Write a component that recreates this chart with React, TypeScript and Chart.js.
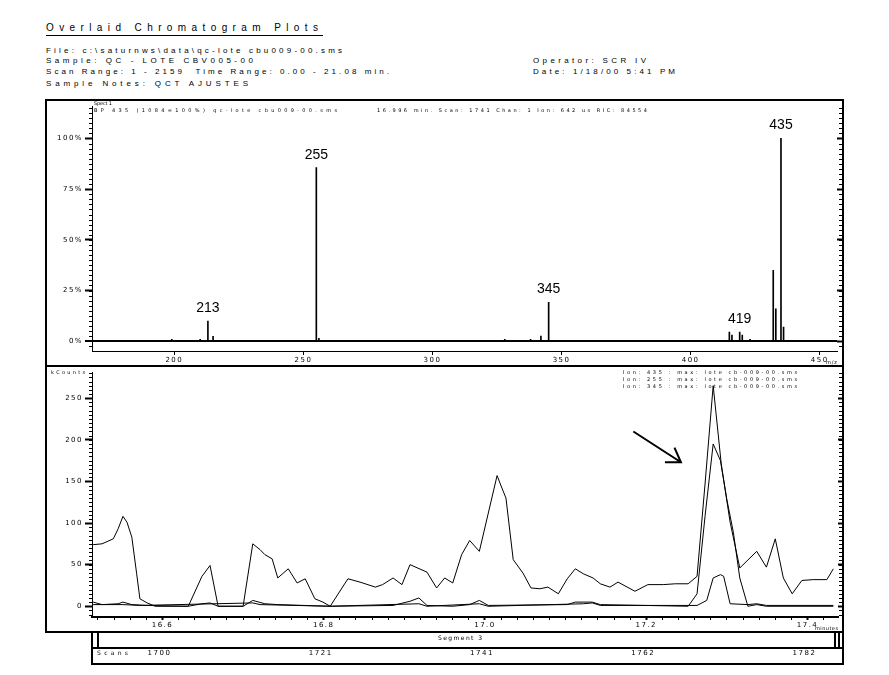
import React, { useEffect, useLayoutEffect, useRef } from "react";
import { Chart, registerables } from "chart.js";
Chart.register(...registerables);

// ---------- Mass spectrum (top panel) ----------
const spectrumMz = [199, 210, 213, 215, 255, 256, 328, 338, 342, 345, 415, 416, 419, 420, 423, 432, 433, 435, 436];
const spectrumIntensity = [1, 1, 10, 2.4, 85.6, 1.5, 1, 1, 2.5, 19.2, 4.5, 3, 4.5, 3, 1, 35, 16, 100, 7];
const labelledPeaks = [213, 255, 345, 419, 435];
const mzTicks = [200, 250, 300, 350, 400, 450];
const mzRange = [168.1, 456.7];
const percentTicks = [0, 25, 50, 75, 100];
const percentLabels = ["0%", "25%", "50%", "75%", "100%"];
const percentRange = [-4.8, 115.9];

// ---------- Chromatogram (bottom panel) ----------
const traceNames = ["Ion: 435", "Ion: 255", "Ion: 345"];
const trace1Time = [16.514, 16.525, 16.539, 16.545, 16.551, 16.556, 16.562, 16.568, 16.572, 16.581, 16.591, 16.632, 16.649, 16.659, 16.669, 16.700, 16.712, 16.721, 16.727, 16.736, 16.743, 16.756, 16.767, 16.777, 16.789, 16.799, 16.808, 16.830, 16.845, 16.864, 16.873, 16.886, 16.897, 16.907, 16.928, 16.940, 16.950, 16.960, 16.971, 16.981, 16.993, 17.015, 17.021, 17.026, 17.035, 17.047, 17.057, 17.068, 17.078, 17.091, 17.102, 17.112, 17.122, 17.134, 17.143, 17.155, 17.165, 17.186, 17.202, 17.221, 17.236, 17.252, 17.263, 17.273, 17.283, 17.293, 17.304, 17.316, 17.337, 17.349, 17.360, 17.370, 17.381, 17.393, 17.407, 17.424, 17.432];
const trace1Counts = [74, 75, 81, 93, 108, 101, 83, 39, 9, 4, 0, 0, 36, 49, 0, 0, 75, 68, 62, 57, 34, 45, 28, 33, 9, 5, 0, 33, 29, 23, 26, 34, 26, 50, 41, 22, 34, 28, 62, 79, 66, 157, 142, 130, 56, 40, 22, 21, 23, 15, 33, 45, 39, 34, 27, 23, 29, 18, 26, 26, 27, 27, 36, 148, 265, 171, 101, 46, 66, 47, 81, 34, 15, 31, 32, 32, 45];
const trace2Time = [16.514, 16.525, 16.545, 16.551, 16.562, 16.581, 16.632, 16.649, 16.659, 16.669, 16.700, 16.712, 16.727, 16.743, 16.808, 16.886, 16.907, 16.918, 16.928, 16.960, 16.981, 16.993, 17.004, 17.102, 17.112, 17.133, 17.143, 17.252, 17.263, 17.273, 17.283, 17.292, 17.300, 17.308, 17.316, 17.326, 17.337, 17.349, 17.432];
const trace2Counts = [5, 2, 3, 5, 2, 1, 0, 3, 4, 0, 0, 7, 3, 2, 0, 1, 6, 10, 1, 0, 2, 7, 1, 2, 5, 5, 2, 0, 15, 109, 195, 175, 128, 89, 34, 0, 2, 0, 0];
const trace3Time = [16.514, 16.551, 16.572, 16.712, 16.721, 16.808, 16.918, 16.928, 16.993, 17.004, 17.122, 17.133, 17.143, 17.263, 17.275, 17.283, 17.292, 17.296, 17.304, 17.326, 17.337, 17.349, 17.432];
const trace3Counts = [2, 2, 1, 4, 2, 0, 3, 0, 3, 0, 3, 4, 1, 1, 7, 34, 38, 36, 3, 2, 3, 1, 1];
const timeTicks = [16.6, 16.8, 17.0, 17.2, 17.4];
const timeLabels = ["16.6", "16.8", "17.0", "17.2", "17.4"];
const scanLabels = ["1700", "1721", "1741", "1762", "1782"];
const timeRange = [16.5126, 17.4378];
const countTicks = [0, 50, 100, 150, 200, 250];
const countRange = [-12.9, 281.2];
const arrowTail = [17.184, 210];
const arrowHead = [17.243, 173];

const TICK_FONT = { size: 7, family: '"DejaVu Sans", sans-serif' };

const spacingPlugin = {
  id: "spacing",
  beforeDraw(chart: any) {
    try { chart.ctx.letterSpacing = "1.5px"; } catch (e) {}
  },
};

const minorTicks = (step: number) => ({
  id: "minorTicks",
  afterDraw(chart: any) {
    const { ctx, chartArea, scales, width } = chart;
    const y = scales.y;
    ctx.save();
    ctx.strokeStyle = "#000";
    ctx.lineWidth = 1;
    ctx.beginPath();
    for (let k = Math.ceil(y.min / step); k * step <= y.max; k++) {
      const p = Math.round(y.getPixelForValue(k * step)) + 0.5;
      ctx.moveTo(chartArea.left - 3, p);
      ctx.lineTo(chartArea.left, p);
      ctx.moveTo(width - 4, p);
      ctx.lineTo(width, p);
    }
    ctx.stroke();
    ctx.restore();
  },
});

const peakLabelPlugin = {
  id: "peakLabels",
  afterDatasetsDraw(chart: any) {
    const { ctx, scales } = chart;
    ctx.save();
    try { ctx.letterSpacing = "0px"; } catch (e) {}
    ctx.fillStyle = "#000";
    ctx.font = '14px "Liberation Sans", Arial, sans-serif';
    ctx.textAlign = "center";
    ctx.textBaseline = "alphabetic";
    labelledPeaks.forEach((mz) => {
      const i = spectrumMz.indexOf(mz);
      const x = scales.x.getPixelForValue(mz);
      const y = scales.y.getPixelForValue(spectrumIntensity[i]);
      ctx.fillText(String(mz), x, y - 9);
    });
    ctx.restore();
  },
};

const arrowPlugin = {
  id: "arrow",
  afterDatasetsDraw(chart: any) {
    const { ctx, scales } = chart;
    const x1 = scales.x.getPixelForValue(arrowTail[0]);
    const y1 = scales.y.getPixelForValue(arrowTail[1]);
    const x2 = scales.x.getPixelForValue(arrowHead[0]);
    const y2 = scales.y.getPixelForValue(arrowHead[1]);
    const ang = Math.atan2(y1 - y2, x1 - x2);
    const L = 16, spread = 0.58;
    ctx.save();
    ctx.strokeStyle = "#000";
    ctx.lineWidth = 2;
    ctx.beginPath();
    ctx.moveTo(x1, y1);
    ctx.lineTo(x2, y2);
    ctx.moveTo(x2 + L * Math.cos(ang - spread), y2 + L * Math.sin(ang - spread));
    ctx.lineTo(x2, y2);
    ctx.lineTo(x2 + L * Math.cos(ang + spread), y2 + L * Math.sin(ang + spread));
    ctx.stroke();
    ctx.restore();
  },
};

const scanRowPlugin = {
  id: "scanRow",
  afterDraw(chart: any) {
    const { ctx, scales } = chart;
    ctx.save();
    ctx.fillStyle = "#000";
    ctx.font = '7px "DejaVu Sans", sans-serif';
    ctx.textAlign = "center";
    ctx.textBaseline = "middle";
    timeTicks.forEach((t, i) => {
      ctx.fillText(scanLabels[i], scales.x.getPixelForValue(t) - 3, 287);
    });
    ctx.restore();
  },
};

function FitText({ x, y, w, size, text, family }: any) {
  const ref = useRef<HTMLDivElement>(null);
  useLayoutEffect(() => {
    const el = ref.current!;
    el.style.letterSpacing = "0px";
    const nat = el.getBoundingClientRect().width;
    const n = Math.max(1, text.length - 1);
    el.style.letterSpacing = (w - nat) / n + "px";
  }, [text, w]);
  return (
    <div
      ref={ref}
      style={{
        position: "absolute",
        left: x,
        top: y - size * 0.62,
        fontSize: size,
        lineHeight: `${Math.round(size * 1.2)}px`,
        whiteSpace: "pre",
        fontFamily: family || '"Liberation Sans", Arial, sans-serif',
      }}
    >
      {text}
    </div>
  );
}

const Box = (p: any) => <div style={{ position: "absolute", boxSizing: "border-box", ...p }} />;

export default function App() {
  const topRef = useRef<HTMLCanvasElement>(null);
  const botRef = useRef<HTMLCanvasElement>(null);

  useEffect(() => {
    Chart.defaults.color = "#000";
    const c1 = new Chart(topRef.current!, {
      type: "bar",
      data: {
        datasets: [
          {
            data: spectrumMz.map((m, i) => ({ x: m, y: spectrumIntensity[i] })),
            backgroundColor: "#000",
            borderWidth: 0,
            barThickness: 1,
          },
        ],
      },
      options: {
        responsive: false,
        animation: false,
        events: [],
        layout: { padding: 0 },
        plugins: { legend: { display: false }, tooltip: { enabled: false } },
        scales: {
          x: {
            type: "linear",
            min: mzRange[0],
            max: mzRange[1],
            offset: false,
            afterBuildTicks: (s: any) => { s.ticks = mzTicks.map((v) => ({ value: v })); },
            afterFit: (s: any) => { s.height = 15; },
            ticks: { autoSkip: false, maxRotation: 0, padding: 1, font: TICK_FONT, color: "#000", callback: (v: any) => String(v) },
            grid: { drawOnChartArea: false, drawTicks: true, tickLength: 4, tickColor: "#000", offset: false },
            border: { display: true, color: "#000", width: 1 },
          },
          y: {
            type: "linear",
            position: "left",
            min: percentRange[0],
            max: percentRange[1],
            afterBuildTicks: (s: any) => { s.ticks = percentTicks.map((v) => ({ value: v })); },
            afterFit: (s: any) => { s.width = 46; },
            ticks: { padding: 2, font: TICK_FONT, color: "#000", callback: (v: any, i: number) => percentLabels[i] },
            grid: {
              color: (c: any) => (c.tick && c.tick.value === 0 ? "#000" : "rgba(0,0,0,0)"),
              lineWidth: (c: any) => (c.tick && c.tick.value === 0 ? 2 : 1),
              tickColor: "#000",
              tickWidth: 2,
              tickLength: 7,
            },
            border: { display: true, color: "#000", width: 1 },
          },
          y2: {
            type: "linear",
            position: "right",
            min: percentRange[0],
            max: percentRange[1],
            afterBuildTicks: (s: any) => { s.ticks = percentTicks.map((v) => ({ value: v })); },
            afterFit: (s: any) => { s.width = 6; },
            ticks: { display: false },
            grid: { drawOnChartArea: false, tickColor: "#000", tickWidth: 2, tickLength: 5 },
            border: { display: false },
          },
        },
      } as any,
      plugins: [spacingPlugin, minorTicks(2.5), peakLabelPlugin],
    });

    const isMajor = (v: number) => timeTicks.some((t) => Math.abs(t - v) < 1e-6);
    const mk = (t: number[], c: number[], label: string) => ({
      label,
      data: t.map((x, i) => ({ x, y: c[i] })),
      borderColor: "#000",
      borderWidth: 1,
      pointRadius: 0,
      tension: 0,
      fill: false,
    });
    const c2 = new Chart(botRef.current!, {
      type: "line",
      data: {
        datasets: [
          mk(trace1Time, trace1Counts, traceNames[0]),
          mk(trace2Time, trace2Counts, traceNames[1]),
          mk(trace3Time, trace3Counts, traceNames[2]),
        ],
      },
      options: {
        responsive: false,
        animation: false,
        events: [],
        layout: { padding: 0 },
        plugins: { legend: { display: false }, tooltip: { enabled: false } },
        scales: {
          x: {
            type: "linear",
            min: timeRange[0],
            max: timeRange[1],
            afterBuildTicks: (s: any) => {
              const out: any[] = [];
              for (let k = Math.ceil(s.min / 0.02 - 1e-9); k * 0.02 <= s.max + 1e-9; k++) {
                out.push({ value: Math.round(k * 2) / 100 });
              }
              s.ticks = out;
            },
            afterFit: (s: any) => { s.height = 47; },
            ticks: {
              autoSkip: false,
              maxRotation: 0,
              padding: 1,
              font: TICK_FONT,
              color: "#000",
              callback: (v: any) => {
                const i = timeTicks.findIndex((t) => Math.abs(t - v) < 1e-6);
                return i >= 0 ? timeLabels[i] : "";
              },
            },
            grid: {
              drawOnChartArea: false,
              tickLength: 3,
              tickColor: "#000",
              tickWidth: (c: any) => (c.tick && isMajor(c.tick.value) ? 2 : 1),
            },
            border: { display: true, color: "#000", width: 2 },
          },
          y: {
            type: "linear",
            position: "left",
            min: countRange[0],
            max: countRange[1],
            afterBuildTicks: (s: any) => { s.ticks = countTicks.map((v) => ({ value: v })); },
            afterFit: (s: any) => { s.width = 46; },
            ticks: { padding: 2, font: TICK_FONT, color: "#000", callback: (v: any) => String(v) },
            grid: { drawOnChartArea: false, tickColor: "#000", tickWidth: 2, tickLength: 7 },
            border: { display: true, color: "#000", width: 1 },
          },
          y2: {
            type: "linear",
            position: "right",
            min: countRange[0],
            max: countRange[1],
            afterBuildTicks: (s: any) => { s.ticks = countTicks.map((v) => ({ value: v })); },
            afterFit: (s: any) => { s.width = 5; },
            ticks: { display: false },
            grid: { drawOnChartArea: false, tickColor: "#000", tickWidth: 2, tickLength: 5 },
            border: { display: false },
          },
        },
      } as any,
      plugins: [spacingPlugin, minorTicks(5), arrowPlugin, scanRowPlugin],
    });
    return () => {
      c1.destroy();
      c2.destroy();
    };
  }, []);

  const tiny = '"DejaVu Sans", sans-serif';
  return (
    <div
      style={{
        position: "fixed",
        left: 0,
        top: 0,
        width: 889,
        height: 675,
        background: "#fff",
        overflow: "hidden",
        color: "#000",
        fontFamily: '"Liberation Sans", Arial, sans-serif',
      }}
    >
      {/* header */}
      <FitText x={46} y={28.5} w={272} size={10} text="Overlaid Chromatogram Plots" />
      <Box left={46} top={35} width={277} height={1} background="#000" />
      <FitText x={46} y={50.5} w={296} size={8} text="File: c:\saturnws\data\qc-lote cbu009-00.sms" />
      <FitText x={46} y={61} w={207} size={8} text="Sample: QC - LOTE CBV005-00" />
      <FitText x={46} y={72} w={343} size={8} text="Scan Range: 1 - 2159  Time Range: 0.00 - 21.08 min." />
      <FitText x={46} y={83.5} w={202} size={8} text="Sample Notes: QCT AJUSTES" />
      <FitText x={533} y={61} w={113} size={8} text="Operator: SCR IV" />
      <FitText x={533} y={72} w={142} size={8} text="Date: 1/18/00 5:41 PM" />

      {/* charts */}
      <canvas ref={topRef} width={797} height={266} style={{ position: "absolute", left: 46, top: 100 }} />
      <canvas ref={botRef} width={797} height={298} style={{ position: "absolute", left: 46, top: 366 }} />

      {/* panel texts */}
      <FitText x={94} y={103} w={18} size={5} family={tiny} text="Spect 1" />
      <FitText x={94} y={110} w={243} size={5} family={tiny} text="BP 435 (1084=100%) qc-lote cbu009-00.sms" />
      <FitText x={377} y={110} w={270} size={5} family={tiny} text="16.996 min. Scan: 1741 Chan: 1 Ion: 642 us RIC: 84554" />
      <FitText x={826} y={362} w={11} size={5} family={tiny} text="m/z" />
      <FitText x={51} y={372} w={34} size={5} family={tiny} text="kCounts" />
      <FitText x={623} y={372.5} w={174} size={5} family={tiny} text="Ion: 435 : max: lote cb-009-00.sms" />
      <FitText x={623} y={379} w={174} size={5} family={tiny} text="Ion: 255 : max: lote cb-009-00.sms" />
      <FitText x={623} y={386} w={174} size={5} family={tiny} text="Ion: 345 : max: lote cb-009-00.sms" />
      <FitText x={815} y={628} w={23} size={5} family={tiny} text="minutes" />
      <FitText x={438} y={637.5} w={44} size={6} family={tiny} text="Segment 3" />
      <FitText x={97} y={653} w={31} size={6} family={tiny} text="Scans" />

      {/* frames */}
      <Box left={45} top={99} width={799} height={534} border="2px solid #000" />
      <Box left={45} top={365} width={799} height={2} background="#000" />
      <Box left={91} top={632} width={753} height={33} borderLeft="2px solid #000" borderRight="2px solid #000" borderBottom="2px solid #000" />
      <Box left={91} top={647} width={753} height={2} background="#000" />
      <Box left={97} top={633} width={2} height={14} background="#000" />
      <Box left={834} top={633} width={2} height={14} background="#000" />
      <Box left={838} top={633} width={2} height={14} background="#000" />
    </div>
  );
}
